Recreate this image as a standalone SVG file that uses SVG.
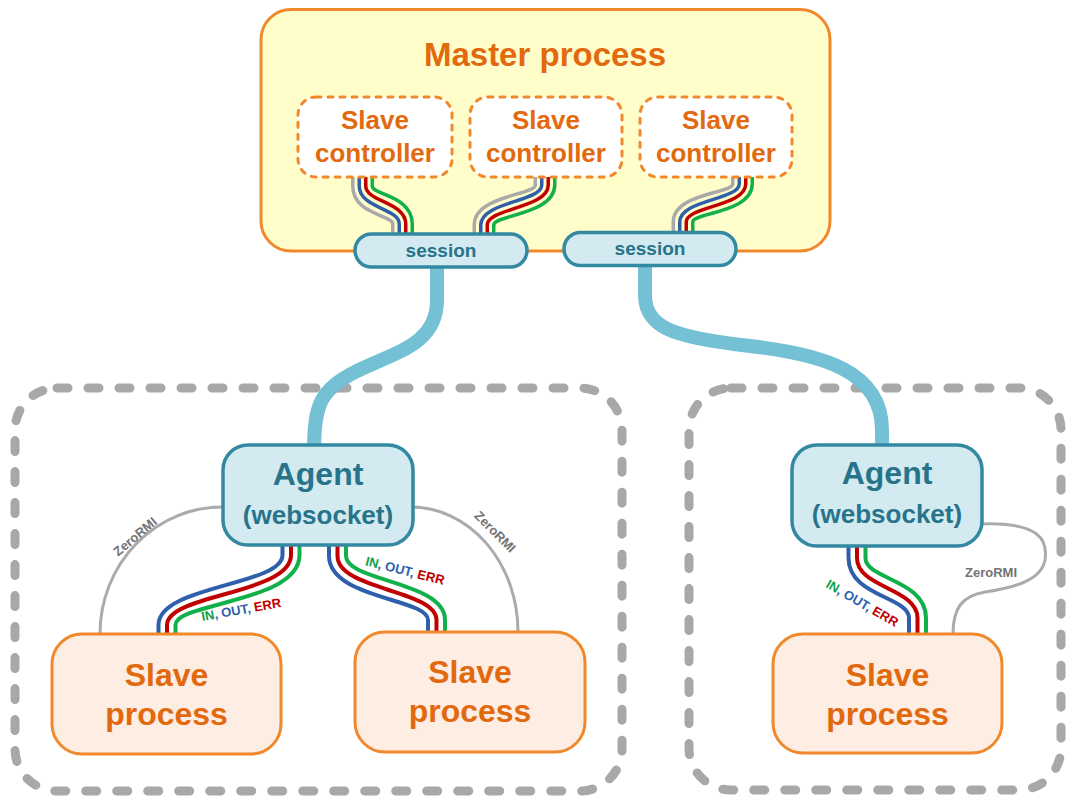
<svg xmlns="http://www.w3.org/2000/svg" width="1066" height="797" viewBox="0 0 1066 797">
  <defs>
    <style>
      .txt { font-family: "Liberation Sans", Arial, sans-serif; font-weight: bold; text-anchor: middle; }
      .orange-txt { fill: #E2690E; }
      .blue-txt { fill: #27748A; }
      .host { fill: none; stroke: #A8A8A8; stroke-width: 9; stroke-dasharray: 11 20; stroke-linecap: round; }
      .master { fill: #FFFDCA; stroke: #F1892C; stroke-width: 3; }
      .ctrl { fill: #FFFFFF; stroke: #F1892C; stroke-width: 3; stroke-dasharray: 5 7; stroke-linecap: round; }
      .proc { fill: #FDEDE2; stroke: #F1892C; stroke-width: 3; }
      .agent { fill: #D3EAF0; stroke: #3389A2; stroke-width: 3.5; }
      .pipe { fill: none; stroke: #74C0D5; stroke-width: 14; }
      .rmi { fill: none; stroke: #ABABAB; stroke-width: 3; }
      .w { fill: none; stroke-width: 3.5; }
      .wb { fill: none; stroke-width: 4; }
      .g { stroke: #A9A9A9; }
      .b { stroke: #2F5FAC; }
      .r { stroke: #C00000; }
      .n { stroke: #11B04B; }
      .lbl { font-family: "Liberation Sans", Arial, sans-serif; font-weight: bold; font-size: 13px; text-anchor: middle; }
      .rmi-txt { fill: #737373; }
    </style>
  </defs>

  <!-- host boundaries -->
  <g id="host-left">
    <rect class="host" x="15" y="388" width="607" height="403" rx="42"/>
  </g>
  <g id="host-right">
    <rect class="host" x="689" y="388" width="372" height="402" rx="42"/>
  </g>

  <!-- master process -->
  <g id="master">
    <rect class="master" x="261" y="9.5" width="569" height="241.5" rx="30"/>
    <text class="txt orange-txt" x="545" y="66" font-size="33">Master process</text>
  </g>

  <g id="connectors">
    <!-- controller 1 to session 1 -->
    <path class="w g" d="M352.75,170 V186 C352.75,214.75 392.75,214.75 392.75,224 V242"/>
    <path class="w b" d="M359.25,170 V186 C359.25,208.25 399.25,208.25 399.25,224 V242"/>
    <path class="w r" d="M365.75,170 V186 C365.75,201.75 405.75,201.75 405.75,224 V242"/>
    <path class="w n" d="M372.25,170 V186 C372.25,195.25 412.25,195.25 412.25,224 V242"/>
    <!-- controller 2 to session 1 -->
    <path class="w g" d="M535.25,170 V185 C535.25,195.25 474.25,195.25 474.25,225 V242"/>
    <path class="w b" d="M541.75,170 V185 C541.75,201.75 480.75,201.75 480.75,225 V242"/>
    <path class="w r" d="M548.25,170 V185 C548.25,208.25 487.25,208.25 487.25,225 V242"/>
    <path class="w n" d="M554.75,170 V185 C554.75,214.75 493.75,214.75 493.75,225 V242"/>
    <!-- controller 3 to session 2 -->
    <path class="w g" d="M732.75,170 V184 C732.75,193.25 673.25,193.25 673.25,222 V240"/>
    <path class="w b" d="M739.25,170 V184 C739.25,199.75 679.75,199.75 679.75,222 V240"/>
    <path class="w r" d="M745.75,170 V184 C745.75,206.25 686.25,206.25 686.25,222 V240"/>
    <path class="w n" d="M752.25,170 V184 C752.25,212.75 692.75,212.75 692.75,222 V240"/>

    <!-- websocket sessions -->
    <path class="pipe" d="M437,262 V300 C437,345 395,352 355,372 C320,390 314,405 314,452"/>
    <path class="pipe" d="M645,262 V295 C645,330 680,338 750,346 C820,354 882,370 882,430 V452"/>

    <!-- ZeroRMI links -->
    <path class="rmi" d="M224,507 A122,127 0 0 0 100,634"/>
    <path class="rmi" d="M411,507 A107,125 0 0 1 518,632"/>
    <path class="rmi" d="M981,524 C1040,522 1048,540 1045,560 C1041,582 1010,588 985,592 C962,596 953,608 953,634"/>

    <!-- agent 1 to slave 1 -->
    <path class="wb b" d="M282.5,540 V555 C282.5,585.5 158.5,585.5 158.5,625 V640"/>
    <path class="wb r" d="M291,540 V555 C291,594 167,594 167,625 V640"/>
    <path class="wb n" d="M299.5,540 V555 C299.5,602.5 175.5,602.5 175.5,625 V640"/>
    <!-- agent 1 to slave 2 -->
    <path class="wb b" d="M329,540 V556 C329,598.5 428,598.5 428,620 V640"/>
    <path class="wb r" d="M337.5,540 V556 C337.5,590 436.5,590 436.5,620 V640"/>
    <path class="wb n" d="M346,540 V556 C346,581.5 445,581.5 445,620 V640"/>
    <!-- agent 2 to slave 3 -->
    <path class="wb b" d="M848.5,540 V558 C848.5,596.5 909,596.5 909,618 V640"/>
    <path class="wb r" d="M857,540 V558 C857,588 917.5,588 917.5,618 V640"/>
    <path class="wb n" d="M865.5,540 V558 C865.5,579.5 926,579.5 926,618 V640"/>

    <!-- link labels -->
    <text class="lbl" x="242" y="614" transform="rotate(-10 242 614)"><tspan fill="#11A04A">IN</tspan><tspan fill="#2F5FAC">, OUT, </tspan><tspan fill="#C00000">ERR</tspan></text>
    <text class="lbl" x="404" y="575" transform="rotate(14 404 575)"><tspan fill="#11A04A">IN</tspan><tspan fill="#2F5FAC">, OUT, </tspan><tspan fill="#C00000">ERR</tspan></text>
    <text class="lbl" x="860" y="607" transform="rotate(30 860 607)"><tspan fill="#11A04A">IN</tspan><tspan fill="#2F5FAC">, OUT, </tspan><tspan fill="#C00000">ERR</tspan></text>
    <text class="lbl rmi-txt" font-size="12" x="138" y="540" transform="rotate(-40 138 540)">ZeroRMI</text>
    <text class="lbl rmi-txt" font-size="12" x="492" y="535" transform="rotate(45 492 535)">ZeroRMI</text>
    <text class="lbl rmi-txt" x="991" y="577">ZeroRMI</text>
  </g>

  <!-- slave controllers -->
  <g id="controller-1">
    <rect class="ctrl" x="298" y="97" width="154" height="80" rx="18"/>
    <text class="txt orange-txt" x="375" y="129" font-size="26">Slave</text>
    <text class="txt orange-txt" x="375" y="162" font-size="26">controller</text>
  </g>
  <g id="controller-2">
    <rect class="ctrl" x="470" y="97" width="152" height="80" rx="18"/>
    <text class="txt orange-txt" x="546" y="129" font-size="26">Slave</text>
    <text class="txt orange-txt" x="546" y="162" font-size="26">controller</text>
  </g>
  <g id="controller-3">
    <rect class="ctrl" x="640" y="97" width="152" height="80" rx="18"/>
    <text class="txt orange-txt" x="716" y="129" font-size="26">Slave</text>
    <text class="txt orange-txt" x="716" y="162" font-size="26">controller</text>
  </g>

  <!-- sessions -->
  <g id="session-1">
    <rect class="agent" x="355" y="234" width="172" height="33" rx="16.5"/>
    <text class="txt blue-txt" x="441" y="257" font-size="19">session</text>
  </g>
  <g id="session-2">
    <rect class="agent" x="564" y="232.5" width="172" height="33" rx="16.5"/>
    <text class="txt blue-txt" x="650" y="255" font-size="19">session</text>
  </g>

  <!-- agents -->
  <g id="agent-1">
    <rect class="agent" x="223" y="445" width="190" height="100" rx="25"/>
    <text class="txt blue-txt" x="318" y="485" font-size="32">Agent</text>
    <text class="txt blue-txt" x="318" y="524" font-size="26">(websocket)</text>
  </g>
  <g id="agent-2">
    <rect class="agent" x="792" y="445" width="190" height="101" rx="25"/>
    <text class="txt blue-txt" x="887" y="484" font-size="32">Agent</text>
    <text class="txt blue-txt" x="887" y="523" font-size="26">(websocket)</text>
  </g>

  <!-- slave processes -->
  <g id="slave-1">
    <rect class="proc" x="52" y="634" width="229" height="120" rx="30"/>
    <text class="txt orange-txt" x="166.5" y="686" font-size="32">Slave</text>
    <text class="txt orange-txt" x="166.5" y="725" font-size="32">process</text>
  </g>
  <g id="slave-2">
    <rect class="proc" x="355" y="632" width="230" height="120" rx="30"/>
    <text class="txt orange-txt" x="470" y="683" font-size="32">Slave</text>
    <text class="txt orange-txt" x="470" y="722" font-size="32">process</text>
  </g>
  <g id="slave-3">
    <rect class="proc" x="773" y="634" width="229" height="119" rx="30"/>
    <text class="txt orange-txt" x="887.5" y="686" font-size="32">Slave</text>
    <text class="txt orange-txt" x="887.5" y="725" font-size="32">process</text>
  </g>
</svg>
